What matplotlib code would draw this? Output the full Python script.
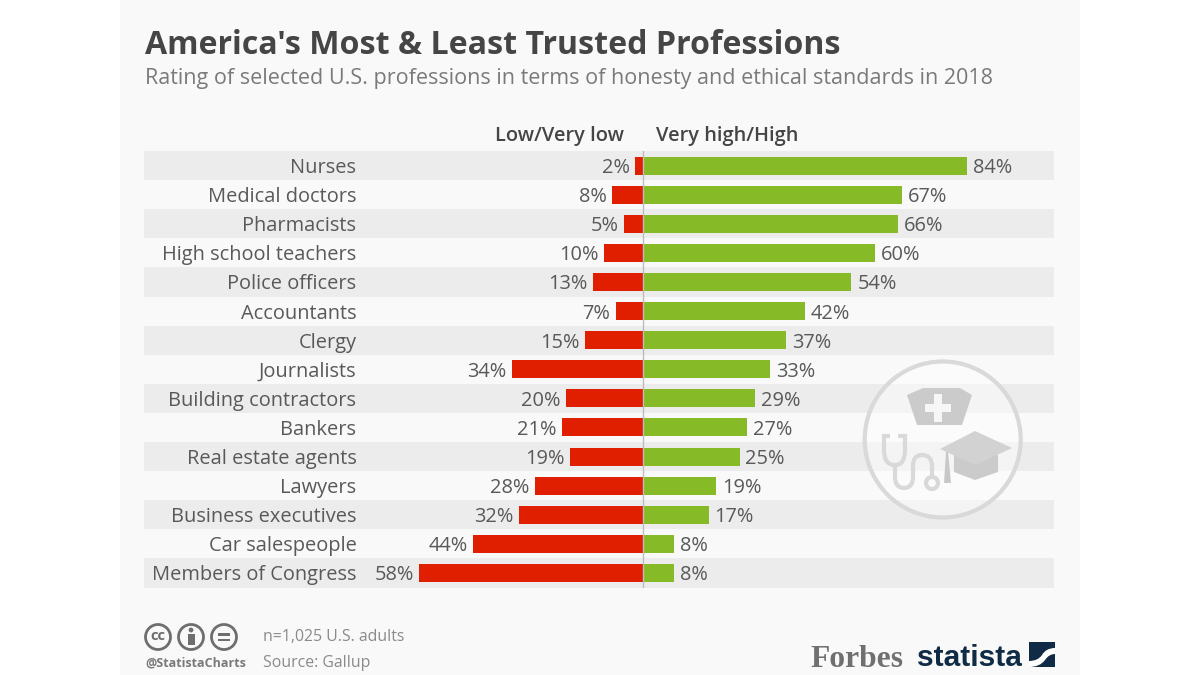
import matplotlib
matplotlib.use('Agg')
import matplotlib.pyplot as plt
from matplotlib.patches import Circle, Polygon, PathPatch, Rectangle
from matplotlib.path import Path

professions = ['Nurses', 'Medical doctors', 'Pharmacists', 'High school teachers', 'Police officers',
               'Accountants', 'Clergy', 'Journalists', 'Building contractors', 'Bankers',
               'Real estate agents', 'Lawyers', 'Business executives', 'Car salespeople', 'Members of Congress']
low = [2, 8, 5, 10, 13, 7, 15, 34, 20, 21, 19, 28, 32, 44, 58]
high = [84, 67, 66, 60, 54, 42, 37, 33, 29, 27, 25, 19, 17, 8, 8]

RED = '#e01f00'
GREEN = '#87ba27'
BAND = '#ececec'
PANEL = '#f9f9f9'
DARK = '#454545'
MID = '#595959'
GREY = '#7a7a7a'
ICON = '#d9d9d9'
NAVY = '#0f2b46'
PX = 3.86  # pixels per percent

plt.rcParams['font.family'] = ['Open Sans', 'DejaVu Sans']

fig = plt.figure(figsize=(12, 6.75), dpi=100, facecolor='white')

# pixel canvas behind the chart
bg = fig.add_axes([0, 0, 1, 1], zorder=0)
bg.set_xlim(0, 1200)
bg.set_ylim(675, 0)
bg.axis('off')
bg.add_patch(Rectangle((120, 0), 960, 675, color=PANEL, lw=0))

# chart
ax = fig.add_axes([144 / 1200, 1 - 587.5 / 675, 910 / 1200, 436.5 / 675], zorder=1)
ax.patch.set_alpha(0)
ax.set_xlim((144 - 643) / PX, (1054 - 643) / PX)
ax.set_ylim(len(professions) - 0.5, -0.5)
ax.axis('off')

for i in range(len(professions)):
    if i % 2 == 0:
        ax.axhspan(i - 0.5, i + 0.5, color=BAND, lw=0, zorder=0)

ax.barh(range(len(low)), [-v for v in low], height=0.62, color=RED, lw=0, zorder=2)
ax.barh(range(len(high)), high, height=0.62, color=GREEN, lw=0, zorder=2)
ax.axvline(0, color='#bdbdbd', lw=1, zorder=3)

for i, name in enumerate(professions):
    ax.annotate(name, (ax.get_xlim()[0], i), xytext=(356.5 - 144, 0), textcoords='offset pixels',
                ha='right', va='center_baseline', fontsize=14.4, color=MID)
    ax.annotate(f'{low[i]}%', (-low[i], i), xytext=(-5.5, 0), textcoords='offset pixels',
                ha='right', va='center_baseline', fontsize=14.4, color=MID)
    ax.annotate(f'{high[i]}%', (high[i], i), xytext=(6, 0), textcoords='offset pixels',
                ha='left', va='center_baseline', fontsize=14.4, color=MID)

# overlay: titles, watermark, footer
top = fig.add_axes([0, 0, 1, 1], zorder=2)
top.set_xlim(0, 1200)
top.set_ylim(675, 0)
top.axis('off')
top.patch.set_alpha(0)

top.text(145, 41, "America's Most & Least Trusted Professions", fontsize=23.1, fontweight='bold',
         color=DARK, va='center_baseline')
top.text(145, 76, 'Rating of selected U.S. professions in terms of honesty and ethical standards in 2018',
         fontsize=15.45, color=GREY, va='center_baseline')
top.text(624, 134, 'Low/Very low', fontsize=14.45, fontweight='semibold', color=DARK, ha='right',
         va='center_baseline')
top.text(656, 134, 'Very high/High', fontsize=14.45, fontweight='semibold', color=DARK, va='center_baseline')

# watermark icon
top.add_patch(Circle((942.7, 439.5), 78, fc=(1, 1, 1, 0.45), ec=ICON, lw=3))
top.add_patch(Polygon([(907, 395), (923, 388), (960, 388), (972, 395), (962, 425), (917, 425)],
                      fc='#cbcbcb', lw=0))
top.add_patch(Rectangle((925, 404), 26, 8, fc='#f6f6f6', lw=0))
top.add_patch(Rectangle((934, 394), 8, 28, fc='#f6f6f6', lw=0))
top.add_patch(Polygon([(954, 455), (954, 472), (975, 480), (998, 472), (998, 455)],
                      fc='#cbcbcb', lw=0))
top.add_patch(Polygon([(940, 449), (975, 431), (1012, 448), (975, 465)], fc='#d2d2d2', lw=0))
top.add_patch(Polygon([(946, 452), (948, 452), (951, 483), (944, 483)], fc='#c8c8c8', lw=0))
steth = Path([(890, 436), (884, 436), (884, 450), (884, 465), (895, 465), (905, 465), (905, 450),
              (905, 436), (898, 436), (895, 465), (895, 477), (895, 488), (904, 488), (913, 488),
              (913, 477), (913, 466), (913, 455), (922, 455), (932, 455), (932, 466), (932, 478)],
             [Path.MOVETO, Path.LINETO, Path.LINETO, Path.CURVE3, Path.CURVE3, Path.CURVE3, Path.CURVE3,
              Path.LINETO, Path.LINETO, Path.MOVETO, Path.LINETO, Path.CURVE3, Path.CURVE3, Path.CURVE3,
              Path.CURVE3, Path.LINETO, Path.CURVE3, Path.CURVE3, Path.CURVE3, Path.CURVE3, Path.LINETO])
top.add_patch(PathPatch(steth, fc='none', ec=ICON, lw=3))
top.add_patch(Circle((932, 483), 6, fc='none', ec=ICON, lw=3))

# licence icons
for cx in (158, 191, 224):
    top.add_patch(Circle((cx, 637), 12.5, fc='none', ec='#6e6e6e', lw=2))
top.text(158, 636.5, 'cc', fontsize=10.5, fontweight='bold', color='#6e6e6e', ha='center', va='center')
top.add_patch(Circle((191, 630), 2.4, fc='#6e6e6e', lw=0))
top.add_patch(Rectangle((187.5, 634), 7, 11, fc='#6e6e6e', lw=0))
top.add_patch(Rectangle((218, 633), 12, 2.6, fc='#6e6e6e', lw=0))
top.add_patch(Rectangle((218, 638.5), 12, 2.6, fc='#6e6e6e', lw=0))

top.text(145, 662, '@StatistaCharts', fontsize=9, fontweight='bold', color='#7a7a7a', va='center_baseline')
top.text(263, 635, 'n=1,025 U.S. adults', fontsize=11.45, color='#8a8a8a', va='center_baseline')
top.text(263, 661, 'Source: Gallup', fontsize=11.45, color='#8a8a8a', va='center_baseline')

# logos
top.text(810, 667, 'Forbes', fontsize=22.7, fontweight='bold', family=['Liberation Serif', 'DejaVu Serif'],
         color='#707070', va='baseline')
top.text(1022, 666, 'statista', fontsize=21.5, fontweight='bold', family=['Liberation Sans', 'DejaVu Sans'],
         color=NAVY, ha='right', va='baseline')
top.add_patch(Rectangle((1029, 642), 26, 25, fc=NAVY, lw=0))
swoosh = Path([(1029, 661), (1038, 661), (1042, 655), (1046, 648), (1055, 648), (1055, 654), (1049, 654),
               (1045, 660), (1040, 667), (1029, 667), (1029, 661)],
              [Path.MOVETO, Path.CURVE3, Path.CURVE3, Path.CURVE3, Path.CURVE3, Path.LINETO, Path.CURVE3,
               Path.CURVE3, Path.CURVE3, Path.CURVE3, Path.CLOSEPOLY])
top.add_patch(PathPatch(swoosh, fc='white', lw=0))

fig.savefig('out.png', dpi=100)
